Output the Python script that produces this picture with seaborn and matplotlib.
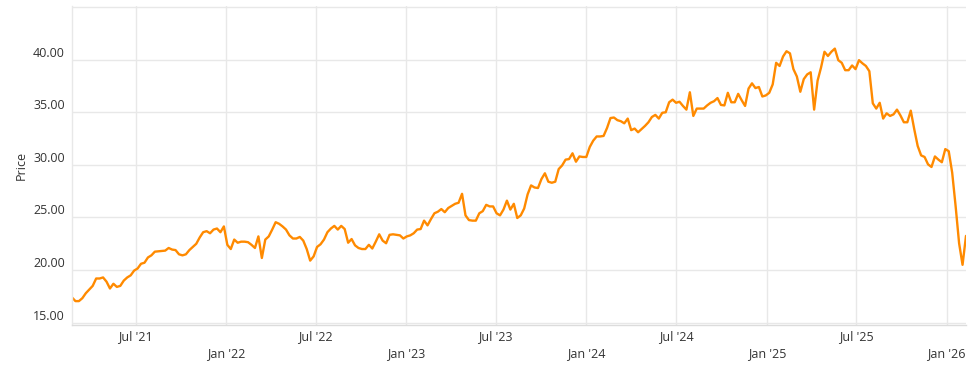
import numpy as np
import pandas as pd
import matplotlib
matplotlib.use("Agg")
import matplotlib.pyplot as plt
import matplotlib.dates as mdates
import seaborn as sns

# Weekly closing prices
prices = [
    17.4, 17.05, 17.05, 17.33, 17.8, 18.15, 18.5, 19.2, 19.2, 19.3,
    18.9, 18.25, 18.7, 18.4, 18.5, 19.0, 19.3, 19.5, 19.95, 20.15,
    20.6, 20.7, 21.2, 21.4, 21.75, 21.78, 21.8, 21.85, 22.1, 21.95,
    21.9, 21.5, 21.4, 21.5, 21.9, 22.2, 22.5, 23.1, 23.6, 23.7,
    23.5, 23.85, 23.95, 23.6, 24.15, 22.4, 22.0, 22.9, 22.6, 22.7,
    22.7, 22.65, 22.4, 22.1, 23.2, 21.15, 22.9, 23.2, 23.85, 24.55,
    24.4, 24.15, 23.85, 23.3, 23.0, 23.0, 23.15, 22.8, 22.0, 20.9,
    21.3, 22.2, 22.45, 22.9, 23.6, 23.95, 24.2,
    23.85, 24.2, 23.9, 22.6, 22.95, 22.35, 22.1, 22.0, 22.0, 22.4,
    22.05, 22.7, 23.4, 22.8, 22.55, 23.35, 23.4, 23.35, 23.3, 23.0,
    23.2, 23.3, 23.5, 23.85, 23.9, 24.7, 24.25, 24.85, 25.4, 25.55,
    25.8, 25.5, 25.9, 26.1, 26.3, 26.4, 27.25, 25.2, 24.75, 24.7,
    24.7, 25.4, 25.6, 26.2, 26.05, 26.05, 25.4, 25.2, 25.75, 26.6,
    25.75, 26.3, 24.95, 25.2, 25.85, 27.2, 28.05, 27.85, 27.8, 28.65,
    29.2, 28.4, 28.3, 28.4, 29.6, 29.95, 30.5, 30.55, 31.1, 30.3,
    30.8, 30.75, 30.75, 31.7, 32.3, 32.7, 32.7, 32.75, 33.5, 34.45,
    34.5, 34.25, 34.15, 33.95, 34.4, 33.3, 33.45, 33.1, 33.4, 33.7,
    34.05, 34.55,
    34.75, 34.4, 34.95, 35.0, 35.95, 36.2, 35.9, 36.0, 35.6, 35.25,
    36.9, 34.65, 35.35, 35.35, 35.35, 35.65, 35.9, 36.05, 36.35, 35.7,
    35.65, 36.85, 35.95, 35.95, 36.75, 36.15, 35.6, 37.25, 37.75, 37.3,
    37.4, 36.5, 36.6, 36.85, 37.65, 39.7, 39.4, 40.3, 40.8, 40.6,
    39.1, 38.4, 36.95, 38.15, 38.6, 38.8, 35.25, 38.0, 39.25, 40.75,
    40.35, 40.75, 41.05, 39.95, 39.7, 39.0, 39.0, 39.45, 39.1, 39.95,
    39.65, 39.4, 38.9, 35.85, 35.35, 35.9, 34.4, 34.9, 34.65, 34.8,
    35.25, 34.7, 34.05, 34.05, 35.15, 33.4, 31.8, 30.9, 30.75, 30.05,
    29.8, 30.8, 30.5, 30.25, 31.5, 31.3, 29.25, 26.05, 22.55, 20.5,
    23.25,
]
start_date = "2021-02-22"
y_ticks = [15, 20, 25, 30, 35, 40, 45]
y_tick_labels = ["15.00", "20.00", "25.00", "30.00", "35.00", "40.00", ""]

dates = pd.date_range(start_date, periods=len(prices), freq="W-MON")
df = pd.DataFrame({"Date": dates, "Price": prices})

sns.set_theme(style="whitegrid")
plt.rcParams["font.family"] = ["Open Sans", "DejaVu Sans"]

W, H = 975, 376
fig = plt.figure(figsize=(W / 100, H / 100), dpi=100)
fig.patch.set_facecolor("white")
ax = fig.add_axes([72 / W, 1 - 325 / H, (966 - 72) / W, (325 - 6) / H])
ax.set_facecolor("white")

sns.lineplot(data=df, x="Date", y="Price", ax=ax, color="#ff8a00", linewidth=1.7)

ax.set_xlim(dates[0], dates[-1])
ax.set_ylim(14.78, 45.1)

ax.set_yticks(y_ticks)
ax.set_yticklabels(y_tick_labels)
for lab in ax.get_yticklabels():
    lab.set_va("bottom")
ax.tick_params(axis="y", length=0, pad=5, labelsize=9, labelcolor="#333333")

fmt = mdates.DateFormatter("%b '%y")
ax.xaxis.set_major_locator(mdates.MonthLocator(bymonth=1))
ax.xaxis.set_minor_locator(mdates.MonthLocator(bymonth=7))
ax.xaxis.set_major_formatter(fmt)
ax.xaxis.set_minor_formatter(fmt)
ax.tick_params(axis="x", which="major", length=0, pad=16, labelsize=9, labelcolor="#333333")
ax.tick_params(axis="x", which="minor", length=0, pad=3.5, labelsize=9, labelcolor="#333333")

ax.grid(False)
ax.grid(True, which="both", axis="x", color="#e8e8e8", linewidth=1)
ax.grid(True, which="major", axis="y", color="#e8e8e8", linewidth=1)

for side in ["right", "top"]:
    ax.spines[side].set_visible(False)
ax.spines["left"].set_color("#e8e8e8")
ax.spines["left"].set_linewidth(1)
ax.spines["bottom"].set_color("#dcdcdc")
ax.spines["bottom"].set_linewidth(1)

ax.set_xlabel("")
ax.set_ylabel("Price", fontsize=9, color="#333333", labelpad=4)

fig.savefig("out.png", dpi=100, facecolor="white")
